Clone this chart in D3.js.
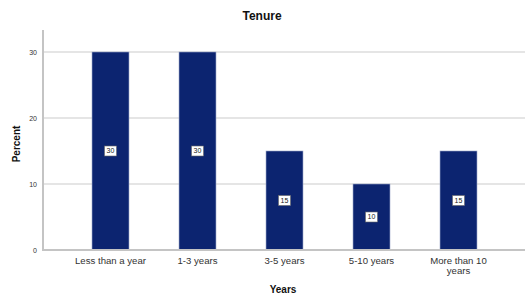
<!DOCTYPE html>
<html>
<head>
<meta charset="utf-8">
<script src="https://cdn.jsdelivr.net/npm/d3@7"></script>
<style>
  body { margin: 0; background: #fff; }
  svg { display: block; font-family: Arial, "Liberation Sans", sans-serif; }
</style>
</head>
<body>
<div id="chart-container"></div>
<script>
(function() {
'use strict';

const categories = [['Less than a year'], ['1-3 years'], ['3-5 years'], ['5-10 years'], ['More than 10', 'years']];
const percents = [30, 30, 15, 10, 15];
const yTicks = [0, 10, 20, 30];

const W = 526;
const H = 295;

const svg = d3.select('#chart-container')
  .append('svg')
    .attr('width', W)
    .attr('height', H);

const xScale = d3.scaleBand()
  .domain(d3.range(categories.length))
  .range([67, 502])
  .paddingInner(0.575)
  .paddingOuter(0.2875);

const yScale = d3.scaleLinear()
  .domain([0, 30])
  .range([250, 52]);

// grid lines
svg.append('g')
  .selectAll('line')
  .data(yTicks.slice(1))
  .enter()
  .append('line')
    .attr('x1', 44)
    .attr('x2', 525)
    .attr('y1', (d) => yScale(d))
    .attr('y2', (d) => yScale(d))
    .attr('stroke', '#dcdcdc')
    .attr('stroke-width', 1.5);

// bars
svg.append('g')
  .selectAll('rect')
  .data(percents)
  .enter()
  .append('rect')
    .attr('x', (d, i) => xScale(i))
    .attr('y', (d) => yScale(d))
    .attr('width', xScale.bandwidth())
    .attr('height', (d) => yScale(0) - yScale(d))
    .attr('fill', '#0c2470')
    .attr('stroke', '#9aa6c8')
    .attr('stroke-width', 0.6);

// axes
const yAxis = d3.axisLeft(yScale).tickValues(yTicks).tickSize(0).tickPadding(6);
const gy = svg.append('g')
  .attr('transform', 'translate(43,0)')
  .call(yAxis);
gy.select('.domain').remove();
gy.selectAll('text')
  .attr('font-size', 7)
  .attr('fill', '#333');

svg.append('line')
  .attr('x1', 43).attr('x2', 43)
  .attr('y1', 30).attr('y2', 251)
  .attr('stroke', '#c4c4c4')
  .attr('stroke-width', 2);

svg.append('line')
  .attr('x1', 42).attr('x2', 525)
  .attr('y1', 250).attr('y2', 250)
  .attr('stroke', '#c4c4c4')
  .attr('stroke-width', 2);

// x tick labels
const xLabels = svg.append('g')
  .selectAll('text')
  .data(categories)
  .enter()
  .append('text')
    .attr('x', (d, i) => xScale(i) + xScale.bandwidth() / 2)
    .attr('y', 264)
    .attr('text-anchor', 'middle')
    .attr('font-size', 9.6)
    .attr('fill', '#333');

xLabels.selectAll('tspan')
  .data((d) => d)
  .enter()
  .append('tspan')
    .attr('x', function() { return d3.select(this.parentNode).attr('x'); })
    .attr('dy', (d, i) => i === 0 ? 0 : 10)
    .text((d) => d);

// value labels
const vals = svg.append('g')
  .selectAll('g')
  .data(percents)
  .enter()
  .append('g')
    .attr('transform', (d, i) => `translate(${xScale(i) + xScale.bandwidth() / 2},${yScale(d / 2)})`);

vals.append('rect')
  .attr('x', -6)
  .attr('y', -5)
  .attr('width', 12)
  .attr('height', 10)
  .attr('fill', '#fff')
  .attr('stroke', '#666')
  .attr('stroke-width', 0.6);

vals.append('text')
  .attr('text-anchor', 'middle')
  .attr('dy', '0.35em')
  .attr('font-size', 7)
  .attr('fill', '#222')
  .text((d) => d);

// titles
svg.append('text')
  .attr('x', 262)
  .attr('y', 20)
  .attr('text-anchor', 'middle')
  .attr('font-size', 12)
  .attr('font-weight', 'bold')
  .attr('fill', '#111')
  .text('Tenure');

svg.append('text')
  .attr('transform', 'translate(20,144) rotate(-90)')
  .attr('text-anchor', 'middle')
  .attr('font-size', 10)
  .attr('font-weight', 'bold')
  .attr('fill', '#111')
  .text('Percent');

svg.append('text')
  .attr('x', 283)
  .attr('y', 293)
  .attr('text-anchor', 'middle')
  .attr('font-size', 10)
  .attr('font-weight', 'bold')
  .attr('fill', '#111')
  .text('Years');

})();
</script>
</body>
</html>
